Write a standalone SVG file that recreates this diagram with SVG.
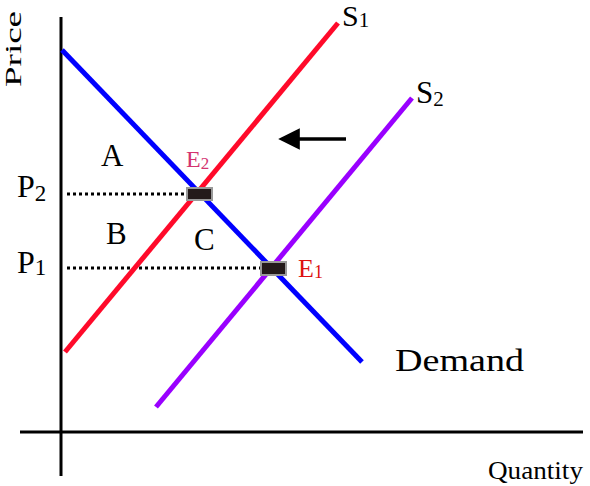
<svg xmlns="http://www.w3.org/2000/svg" width="590" height="486" viewBox="0 0 590 486">
<style>
.t{font-family:"Liberation Serif","Times New Roman",serif;fill:#000}
.axis{stroke:#000;stroke-width:3;fill:none}
.dot{stroke:#000;stroke-width:3;stroke-dasharray:3 3;fill:none}
.box{fill:#231a1a;stroke:#999;stroke-width:2}
</style>
<defs>
<marker id="ah" markerWidth="6" markerHeight="6" refX="0.5" refY="3" orient="auto" markerUnits="strokeWidth">
<path d="M0,0 L6,3 L0,6 Z" fill="#000"/>
</marker>
</defs>
<rect width="590" height="486" fill="#fff"/>
<g id="axes">
<line class="axis" x1="61" y1="17" x2="61" y2="476"/>
<line class="axis" x1="20" y1="432" x2="583" y2="432"/>
</g>
<g id="connectors">
<line class="dot" x1="67" y1="194" x2="188" y2="194"/>
<line class="dot" x1="67" y1="268" x2="261" y2="268"/>
<line x1="346" y1="139" x2="298" y2="139" stroke="#000" stroke-width="3.6" marker-end="url(#ah)"/>
</g>
<g id="demand">
<line x1="62" y1="50" x2="362" y2="362" stroke="#0000ff" stroke-width="5"/>
<text class="t" x="395" y="371" font-size="32" textLength="129" lengthAdjust="spacingAndGlyphs">Demand</text>
</g>
<g id="s1">
<line x1="65" y1="352" x2="338" y2="23" stroke="#ff0a2a" stroke-width="5"/>
<text class="t" x="342" y="26" font-size="30">S<tspan font-size="21" dy="1">1</tspan></text>
</g>
<g id="s2">
<line x1="156" y1="407" x2="412" y2="98" stroke="#9900ff" stroke-width="5"/>
<text class="t" x="416" y="103" font-size="31">S<tspan font-size="21" dy="3">2</tspan></text>
</g>
<g id="e2">
<rect class="box" x="187" y="188" width="25" height="12"/>
<text class="t" x="186" y="167" font-size="24" style="fill:#d4336f">E<tspan font-size="17" dy="2">2</tspan></text>
</g>
<g id="e1">
<rect class="box" x="261" y="262" width="25" height="13"/>
<text class="t" x="298" y="277" font-size="26" style="fill:#dd1111">E<tspan font-size="18" dy="1">1</tspan></text>
</g>
<g id="labels">
<text class="t" transform="translate(21,87) rotate(-90)" font-size="23" textLength="76" lengthAdjust="spacingAndGlyphs">Price</text>
<text class="t" x="17" y="197" font-size="32">P<tspan font-size="23" dy="4">2</tspan></text>
<text class="t" x="17" y="273" font-size="32">P<tspan font-size="23" dy="2">1</tspan></text>
<text class="t" x="101" y="166" font-size="31">A</text>
<text class="t" x="106" y="244" font-size="31">B</text>
<text class="t" x="194" y="250" font-size="31">C</text>
<text class="t" x="488" y="479" font-size="25" textLength="95" lengthAdjust="spacingAndGlyphs">Quantity</text>
</g>
</svg>
